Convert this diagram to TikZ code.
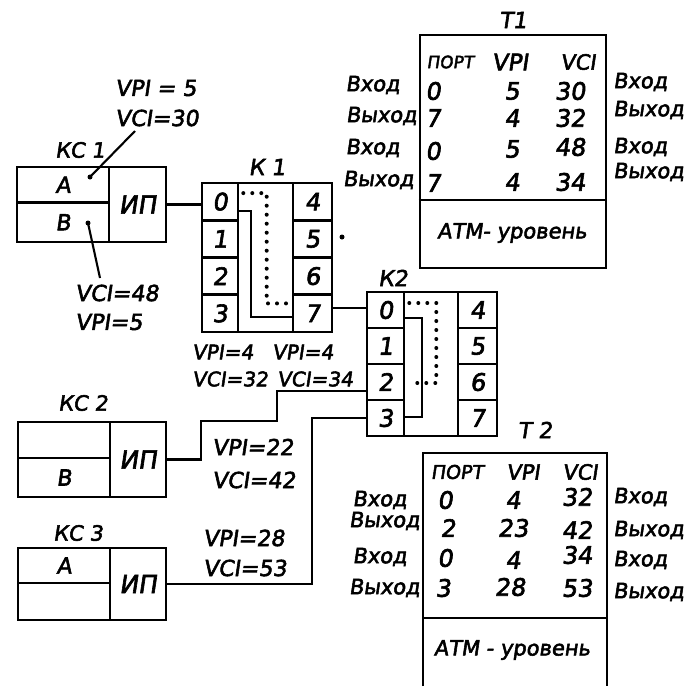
\documentclass[tikz,border=0pt]{standalone}
\usepackage{fontspec}
\usetikzlibrary{calc}
\setmainfont{DejaVu Sans}[FakeSlant=0.15,FakeBold=2.5]
\newcommand\fsz[1]{\fontsize{#1}{#1}\selectfont}
\begin{document}
\begin{tikzpicture}[x=1pt,y=-1pt,line join=miter,
  box/.style={draw,line width=2.6pt,inner sep=0pt},
  txt/.style={inner sep=0pt,font=\fsz{21}},
  lab/.style={inner sep=0pt,font=\fsz{22}},
  num/.style={inner sep=0pt,font=\fsz{24}},
  conn/.style={line width=2.1pt},
  dots/.style={line width=4pt,line cap=round,dash pattern=on 0pt off 9pt}]
\useasboundingbox (0,0) rectangle (694,686);

% ---------- KC1 ----------
\node[box,minimum width=149,minimum height=75] (kc1) at (91.5,204.5) {};
\node[box,minimum width=57,minimum height=75,font=\fsz{25}] (kc1ip) at (137.5,204.5) {ИП};
\node[box,minimum width=92,minimum height=35.5,font=\fsz{22}] (kc1a) at (63,184.75) {А};
\node[box,minimum width=92,minimum height=39.5,font=\fsz{22}] (kc1b) at (63,222.25) {В};
\node[txt] (kc1l) at (80,150) {КС 1};
\node[lab,anchor=west] (v1a) at (115,88) {VPI = 5};
\node[lab,anchor=west] (v1b) at (115,118) {VCI=30};
\node[lab,anchor=west] (v1c) at (75,293) {VCI=48};
\node[lab,anchor=west] (v1d) at (75,322) {VPI=5};
\coordinate (d1) at (90,177);
\coordinate (d2) at (88,223);
\fill (d1) circle (2.5);
\fill (d2) circle (2.5);
\draw[conn] (d1) -- (135,131);
\draw[conn] (d2) -- (100,278);

% ---------- K1 ----------
\node[box,minimum width=130,minimum height=149] (k1) at (267,257.5) {};
\node[txt,font=\fsz{22}] (k1l) at (267,167) {К 1};
\node[box,num,minimum width=36,minimum height=37.25] (k1p0) at (220,201.6) {0};
\node[box,num,minimum width=36,minimum height=37.25] (k1p1) at (220,238.9) {1};
\node[box,num,minimum width=36,minimum height=37.25] (k1p2) at (220,276.1) {2};
\node[box,num,minimum width=36,minimum height=37.25] (k1p3) at (220,313.4) {3};
\node[box,num,minimum width=39,minimum height=37.25] (k1p4) at (312.5,201.6) {4};
\node[box,num,minimum width=39,minimum height=37.25] (k1p5) at (312.5,238.9) {5};
\node[box,num,minimum width=39,minimum height=37.25] (k1p6) at (312.5,276.1) {6};
\node[box,num,minimum width=39,minimum height=37.25] (k1p7) at (312.5,313.4) {7};
\draw[conn] ([yshift=-9.5pt]k1p0.east) -| ([xshift=-41pt,yshift=-4pt]k1p7.west) -- ([yshift=-4pt]k1p7.west);
\draw[dots] ([xshift=4pt,yshift=8.5pt]k1p0.east) -| ([xshift=-25pt,yshift=10pt]k1p7.west) -- ([xshift=-3pt,yshift=10pt]k1p7.west);
\fill (342,237) circle (2.5);

% ---------- K2 ----------
\node[box,minimum width=130,minimum height=144] (k2) at (432,364) {};
\node[txt,font=\fsz{22}] (k2l) at (393,278) {К2};
\node[box,num,minimum width=37,minimum height=36] (k2p0) at (385.5,310) {0};
\node[box,num,minimum width=37,minimum height=36] (k2p1) at (385.5,346) {1};
\node[box,num,minimum width=37,minimum height=36] (k2p2) at (385.5,382) {2};
\node[box,num,minimum width=37,minimum height=36] (k2p3) at (385.5,418) {3};
\node[box,num,minimum width=39,minimum height=36] (k2p4) at (477.5,310) {4};
\node[box,num,minimum width=39,minimum height=36] (k2p5) at (477.5,346) {5};
\node[box,num,minimum width=39,minimum height=36] (k2p6) at (477.5,382) {6};
\node[box,num,minimum width=39,minimum height=36] (k2p7) at (477.5,418) {7};
\draw[conn] ([yshift=-8pt]k2p0.east) -- ++(17,0) |- ([yshift=1pt]k2p3.east);
\draw[dots] ([xshift=4pt,yshift=7pt]k2p0.east) -- ++(27,0) |- ([xshift=4pt,yshift=-1pt]k2p2.east);

% K1 -> K2, KC1 -> K1
\draw[conn] (kc1ip.east) -- (kc1ip.east -| k1p0.west);
\draw[conn] ([yshift=5pt]k1p7.east) -- ([yshift=5pt]k1p7.east -| k2p0.west);

\node[lab,font=\fsz{20},anchor=west] (v4a) at (192,352) {VPI=4};
\node[lab,font=\fsz{20},anchor=west] (v4b) at (192,379) {VCI=32};
\node[lab,font=\fsz{20},anchor=west] (v4c) at (272,352) {VPI=4};
\node[lab,font=\fsz{20},anchor=west] (v4d) at (277,379) {VCI=34};

% ---------- KC2 ----------
\node[box,minimum width=148,minimum height=75] (kc2) at (92,459.5) {};
\node[box,minimum width=56,minimum height=75,font=\fsz{25}] (kc2ip) at (138,459.5) {ИП};
\node[box,minimum width=92,minimum height=36] (kc2a) at (64,440) {};
\node[box,minimum width=92,minimum height=39,font=\fsz{22}] (kc2b) at (64,477.5) {В};
\node[txt] (kc2l) at (83,403) {КС 2};
\node[lab,anchor=west] (v2a) at (212,447) {VPI=22};
\node[lab,anchor=west] (v2b) at (212,480) {VCI=42};
\draw[conn] (kc2ip.east) -- ++(34,0) |- (277,421) |- ([yshift=-9pt]k2p2.west);

% ---------- KC3 ----------
\node[box,minimum width=148,minimum height=72] (kc3) at (92,584) {};
\node[box,minimum width=56,minimum height=72,font=\fsz{25}] (kc3ip) at (138,584) {ИП};
\node[box,minimum width=92,minimum height=35,font=\fsz{22}] (kc3a) at (64,565.5) {А};
\node[box,minimum width=92,minimum height=37] (kc3b) at (64,601.5) {};
\node[txt] (kc3l) at (78,533) {КС 3};
\node[lab,anchor=west] (v3a) at (203,538) {VPI=28};
\node[lab,anchor=west] (v3b) at (203,568) {VCI=53};
\draw[conn] (kc3ip.east) -| ($(k2p3.west)+(-54,0)$) -- (k2p3.west);

% ---------- T1 ----------
\node[box,minimum width=186,minimum height=233] (t1) at (513,151.5) {};
\draw[line width=2.6pt] (t1.west |- 0,200) -- (t1.east |- 0,200);
\node[txt,font=\fsz{22}] (t1l) at (513,20) {Т1};
\node[txt,font=\fsz{17}] (t1h1) at (450,62) {ПОРТ};
\node[txt,font=\fsz{23}] (t1h2) at (510,62) {VPI};
\node[txt,font=\fsz{21}] (t1h3) at (578,62) {VCI};
\node[num] at (433,91) {0}; \node[num] at (512,91) {5}; \node[num] at (570,91) {30};
\node[num] at (433,118) {7}; \node[num] at (512,118) {4}; \node[num] at (570,118) {32};
\node[num] at (433,151) {0}; \node[num] at (512,149) {5}; \node[num] at (570,147) {48};
\node[num] at (433,183) {7}; \node[num] at (512,182) {4}; \node[num] at (570,182) {34};
\node[txt,anchor=east] at (400,85) {Вход};
\node[txt,anchor=east] at (417,116) {Выход};
\node[txt,anchor=east] at (400,148) {Вход};
\node[txt,anchor=east] at (414,180) {Выход};
\node[txt,anchor=west] at (613,82) {Вход};
\node[txt,anchor=west] at (613,110) {Выход};
\node[txt,anchor=west] at (613,147) {Вход};
\node[txt,anchor=west] at (613,172) {Выход};
\node[txt] (t1atm) at (512,233) {АТМ- уровень};

% ---------- T2 ----------
\coordinate (t2bl) at (423,686);
\coordinate (t2br) at (607,686);
\draw[line width=2.6pt] (t2bl) -- (423,453) -- (607,453) -- (t2br);
\draw[line width=2.6pt] (423,618) -- (607,618);
\node[txt,font=\fsz{22}] (t2l) at (535,430) {Т 2};
\node[txt,font=\fsz{19}] (t2h1) at (457,472) {ПОРТ};
\node[txt,font=\fsz{21}] (t2h2) at (523,472) {VPI};
\node[txt,font=\fsz{21}] (t2h3) at (580,472) {VCI};
\node[num] at (445,500) {0}; \node[num] at (513,500) {4}; \node[num] at (577,497) {32};
\node[num] at (448,528) {2}; \node[num] at (513,528) {23}; \node[num] at (577,530) {42};
\node[num] at (445,558) {0}; \node[num] at (513,560) {4}; \node[num] at (577,555) {34};
\node[num] at (443,588) {3}; \node[num] at (510,587) {28}; \node[num] at (577,588) {53};
\node[txt,anchor=east] at (407,500) {Вход};
\node[txt,anchor=east] at (420,521) {Выход};
\node[txt,anchor=east] at (407,557) {Вход};
\node[txt,anchor=east] at (420,588) {Выход};
\node[txt,anchor=west] at (613,497) {Вход};
\node[txt,anchor=west] at (613,530) {Выход};
\node[txt,anchor=west] at (613,560) {Вход};
\node[txt,anchor=west] at (613,592) {Выход};
\node[txt] (t2atm) at (512,650) {АТМ - уровень};
\end{tikzpicture}
\end{document}
